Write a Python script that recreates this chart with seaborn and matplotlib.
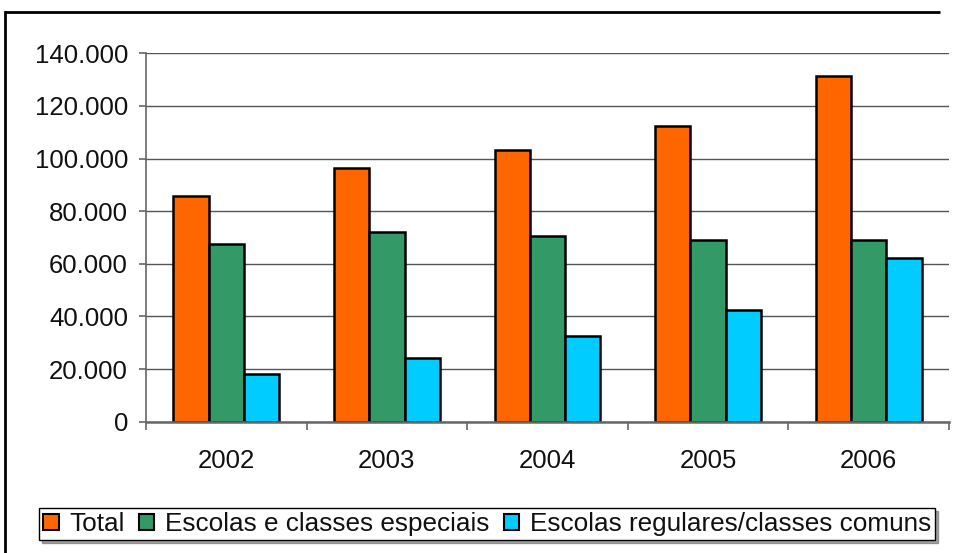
import matplotlib
matplotlib.use("Agg")
import matplotlib.pyplot as plt
import matplotlib.ticker as mticker
from matplotlib.lines import Line2D
import seaborn as sns
import pandas as pd

years = ["2002", "2003", "2004", "2005", "2006"]
series_names = ["Total", "Escolas e classes especiais", "Escolas regulares/classes comuns"]
total = [85900, 96400, 103300, 112400, 131500]
especiais = [67400, 72100, 70600, 69200, 69000]
regulares = [18100, 24100, 32600, 42500, 62200]
colors = ["#FF6600", "#339966", "#00CCFF"]

rows = []
for name, vals in zip(series_names, [total, especiais, regulares]):
    for y, v in zip(years, vals):
        rows.append({"Ano": y, "Série": name, "Valor": v})
df = pd.DataFrame(rows)

sns.set_theme(style="white")
plt.rcParams['font.family'] = ['Liberation Sans', 'DejaVu Sans']
plt.rcParams['text.color'] = '#111111'

fig = plt.figure(figsize=(9.54, 5.53), dpi=100)
ax = fig.add_axes([146/954, 1-421.7/553, (949-146)/954, (421.7-53.3)/553])

sns.barplot(data=df, x="Ano", y="Valor", hue="Série", palette=colors,
            width=0.66, gap=0, edgecolor="black", linewidth=1.8,
            saturation=1, ax=ax, legend=True)

ax.set_ylim(0, 140000)
ax.set_xlim(-0.5, 4.5)
ax.set_yticks(range(0, 140001, 20000))
ax.yaxis.set_major_formatter(mticker.FuncFormatter(
    lambda v, p: "0" if v == 0 else f"{int(v):,}".replace(",", ".")))
ax.grid(axis="y", color="#555555", linewidth=1.0)
ax.set_axisbelow(True)
ax.set_xlabel("")
ax.set_ylabel("")

ax.set_xticks([i - 0.5 for i in range(6)])
ax.set_xticklabels([])
ax.set_xticks(range(len(years)), minor=True)
ax.set_xticklabels(years, minor=True)
ax.tick_params(axis="x", which="major", direction="out", length=6, width=1.2,
               color="#666666", bottom=True)
ax.tick_params(axis="x", which="minor", length=0, pad=20, labelsize=18.5,
               labelcolor="#111111")
ax.tick_params(axis="y", direction="out", length=5, width=1.2, color="#666666",
               left=True, pad=8, labelsize=18.5, labelcolor="#111111")

for s in ["top", "right"]:
    ax.spines[s].set_visible(False)
ax.spines["left"].set_color("#666666")
ax.spines["bottom"].set_color("#666666")
ax.spines["left"].set_linewidth(1.2)
ax.spines["bottom"].set_linewidth(1.8)

handles, labels = ax.get_legend_handles_labels()
ax.get_legend().remove()
leg = fig.legend(handles, labels, loc="center", bbox_to_anchor=(487/954, 1-524/553),
                 ncol=3, frameon=True, fancybox=False, shadow=True, fontsize=18.8,
                 handlelength=0.6, handleheight=0.6, handletextpad=0.4,
                 columnspacing=0.55, borderpad=0.15, borderaxespad=0)
leg.get_frame().set_edgecolor("black")
leg.get_frame().set_linewidth(1.0)
for h in leg.legend_handles:
    h.set_edgecolor("black")
    h.set_linewidth(1.5)

# outer chart-area frame: left edge and top edge
ytop = 1 - 12/553
xl = 5/954
fig.add_artist(Line2D([xl, 0.985], [ytop, ytop], transform=fig.transFigure,
                      color="black", linewidth=2.0, solid_capstyle="butt"))
fig.add_artist(Line2D([xl, xl], [ytop, 0.0], transform=fig.transFigure,
                      color="black", linewidth=2.0, solid_capstyle="projecting"))

fig.savefig("out.png", dpi=100, bbox_inches=None)
